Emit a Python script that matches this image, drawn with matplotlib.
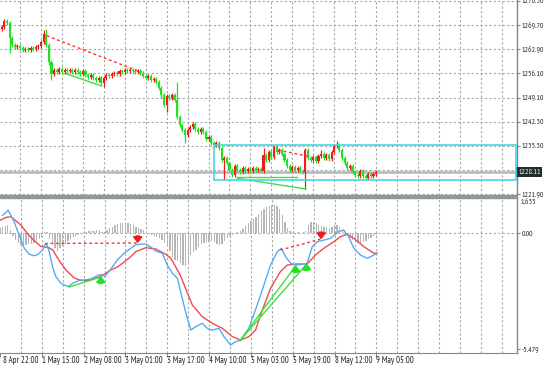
import matplotlib
matplotlib.use('Agg')
import matplotlib.pyplot as plt
from matplotlib.patches import Rectangle

plt.rcParams['font.family'] = ['PT Sans Narrow', 'DejaVu Sans']

# ---- H1 candles, bar index 0..144 (open of each bar = previous close) ----
first_open = 1268.0
closes = [
    1268.57, 1269.13, 1270.83, 1270.26, 1266.02, 1264.04, 1263.47, 1263.76, 1263.19, 1262.63,
    1262.91, 1262.63, 1263.19, 1262.91, 1263.47, 1263.76, 1264.89, 1267.15, 1264.04, 1259.23,
    1255.84, 1256.97, 1256.40, 1257.25, 1256.40, 1256.97, 1256.68, 1256.97, 1256.40, 1256.97,
    1256.40, 1255.84, 1256.68, 1255.55, 1254.99, 1255.55, 1254.70, 1254.14, 1254.70, 1253.29,
    1254.70, 1255.55, 1255.27, 1255.84, 1256.12, 1255.84, 1256.68, 1256.40, 1256.97, 1256.68,
    1256.97, 1256.68, 1256.40, 1256.68, 1256.12, 1255.27, 1254.70, 1255.27, 1254.14, 1254.42,
    1253.57, 1251.88, 1249.89, 1247.07, 1249.61, 1249.05, 1249.89, 1248.48, 1243.67, 1241.41,
    1240.00, 1238.58, 1240.00, 1240.84, 1241.69, 1240.28, 1239.43, 1240.28, 1239.43, 1237.45,
    1238.01, 1236.32, 1235.75, 1236.32, 1234.90, 1231.51, 1232.07, 1230.66, 1228.68, 1227.26,
    1229.81, 1228.68, 1228.11, 1229.24, 1228.39, 1228.96, 1228.39, 1229.24, 1228.68, 1228.96,
    1228.39, 1232.92, 1231.51, 1233.77, 1232.35, 1235.19, 1233.77, 1234.34, 1233.20, 1231.51,
    1229.81, 1228.68, 1229.53, 1228.68, 1229.24, 1228.39, 1228.11, 1234.34, 1232.07, 1231.51,
    1232.35, 1231.22, 1232.64, 1233.20, 1232.07, 1232.92, 1231.79, 1233.77, 1235.47, 1235.75,
    1234.34, 1232.07, 1230.66, 1229.24, 1229.81, 1228.11, 1227.26, 1226.98, 1228.39, 1226.98,
    1226.41, 1227.54, 1226.98, 1227.54, 1228.11]
wick = 0.45   # usual wick beyond the body
up_wick = {17: 1.1, 18: 1.4, 68: 5.1, 74: 0.6, 101: 2.0, 105: 0.6, 117: 0.6,
           123: 1.1, 129: 1.1, 138: 0.6}
dn_wick = {4: 4.2, 19: 0.85, 20: 1.7, 40: 1.1, 62: 0.8, 64: 2.0, 71: 2.3,
           86: 5.7, 89: 0.6, 117: 4.8, 140: 0.55}

price_ticks = [1276.50, 1269.70, 1262.90, 1256.10, 1249.10, 1242.30, 1235.50, 1221.90]
grid_prices = [1276.50, 1269.70, 1262.90, 1256.10, 1249.10, 1242.30, 1235.50, 1228.70, 1221.90]
last_price = 1228.11

time_bars = [0, 16, 32, 48, 64, 80, 96, 112, 128, 144]
time_labels = ['8 Apr 22:00', '1 May 15:00', '2 May 08:00', '3 May 01:00', '3 May 17:00',
               '4 May 10:00', '5 May 03:00', '5 May 19:00', '8 May 12:00', '9 May 05:00']

# ---- MACD panel ----
hist = [
    0.24, 0.28, 0.33, 0.38, 0.14, -0.14, -0.33, -0.47, -0.57, -0.57,
    -0.57, -0.52, -0.52, -0.47, -0.38, -0.28, -0.19, 0.05, 0.05, -0.28,
    -0.52, -0.71, -0.85, -0.71, -0.61, -0.52, -0.38, -0.28, -0.19, -0.14,
    -0.09, -0.05, 0.05, 0.05, 0.09, 0.09, 0.09, 0.14, 0.14, 0.05,
    0.05, 0.14, 0.24, 0.28, 0.38, 0.43, 0.47, 0.47, 0.47, 0.47,
    0.43, 0.38, 0.28, 0.24, 0.19, 0.14, 0.05, -0.05, -0.09, -0.14,
    -0.19, -0.24, -0.33, -0.47, -0.66, -0.85, -1.13, -1.28, -1.32, -1.42,
    -1.51, -1.56, -1.42, -1.04, -0.90, -0.80, -0.66, -0.52, -0.47, -0.43,
    -0.43, -0.38, -0.43, -0.52, -0.57, -0.52, -0.38, -0.24, -0.14, -0.09,
    -0.05, 0.05, 0.09, 0.19, 0.33, 0.47, 0.57, 0.66, 0.76, 0.90,
    1.04, 1.13, 1.23, 1.28, 1.32, 1.32, 1.28, 1.13, 0.85, 0.52,
    0.24, 0.09, 0.05, 0.02, 0.05, 0.02, 0.05, 0.09, 0.38, 0.52,
    0.52, 0.47, 0.38, 0.33, 0.28, 0.24, 0.24, 0.28, 0.38, 0.38,
    0.28, 0.09, -0.05, -0.14, -0.24, -0.33, -0.43, -0.47, -0.47, -0.43,
    -0.38, -0.28, -0.24, -0.14, -0.09]

macd_x = [1.0, 3.1, 5.4, 7.3, 9.3, 11.2, 13.1, 14.6, 16.3, 17.2, 17.9, 18.8, 20.1, 21.4,
          23.3, 25.2, 26.4, 27.9, 30.3, 34.7, 37.4, 38.6, 40.1, 42.4, 44.9, 47.5, 50.0,
          51.9, 53.8, 55.8, 57.7, 59.6, 62.1, 64.0, 66.0, 67.9, 69.1, 71.0, 73.0, 74.9,
          77.4, 79.3, 81.2, 83.8, 85.7, 88.2, 90.1, 92.1, 95.2, 98.4, 101.0, 103.5, 106.1,
          107.6, 109.3, 111.2, 113.1, 116.2, 117.5, 119.5, 121.4, 123.9, 126.4, 129.6,
          131.5, 133.4, 135.4, 137.9, 140.5, 143.0, 144.3]
macd = [0.84, 1.09, 0.55, -0.08, -0.71, -0.99, -1.06, -0.99, -0.79, -0.55, -0.52, -0.84,
        -1.58, -2.05, -2.36, -2.48, -2.50, -2.35, -2.23, -2.16, -1.99, -1.95, -2.04, -1.69,
        -1.26, -0.94, -0.71, -0.55, -0.51, -0.51, -0.65, -0.84, -0.94, -1.50, -1.89, -2.13,
        -2.76, -3.70, -4.57, -4.41, -4.25, -4.49, -4.57, -4.49, -4.88, -5.28, -5.12, -5.04,
        -4.49, -3.39, -2.44, -1.50, -0.87, -0.71, -1.11, -1.42, -1.50, -1.46, -1.42, -0.63,
        -0.40, -0.32, -0.24, 0.08, 0.16, -0.16, -0.71, -1.03, -1.18, -1.03, -0.94]

sig_x = [0.3, 2.3, 4.2, 8.0, 10.6, 13.0, 15.6, 18.7, 20.2, 22.6, 25.2, 28.4, 30.9, 33.6,
         37.4, 39.2, 42.4, 44.9, 47.3, 50.0, 51.9, 55.8, 59.6, 63.4, 65.3, 67.2, 69.1,
         71.0, 73.6, 77.4, 81.2, 85.1, 88.9, 92.1, 95.2, 97.8, 99.7, 103.5, 107.3, 109.9,
         113.7, 117.5, 120.7, 123.9, 127.7, 130.3, 132.8, 135.4, 139.2, 143.0, 144.3]
sig = [0.63, 0.75, 0.78, 0.39, -0.03, -0.34, -0.62, -0.68, -0.79, -1.28, -1.73, -2.11,
       -2.22, -2.23, -2.09, -1.99, -1.73, -1.59, -1.38, -1.11, -0.87, -0.68, -0.74, -0.99,
       -1.17, -1.58, -2.02, -2.60, -3.39, -3.94, -4.25, -4.49, -4.88, -5.04, -4.88, -4.57,
       -3.86, -2.60, -1.81, -1.50, -1.45, -1.45, -1.03, -0.71, -0.40, -0.16, -0.05, -0.24,
       -0.63, -0.94, -0.94]

# trend-line objects drawn on the chart: (x0, x1), (y0, y1)
price_red_dash = [((18.2, 53.8), (1266.67, 1256.49)), ((106.6, 118.8), (1234.34, 1232.44))]
price_green = [((25.8, 39.2), (1255.84, 1252.44)), ((90.9, 113.7), (1226.61, 1226.61)),
               ((91.0, 117.2), (1226.33, 1223.30))]
box_left, box_top, box_bottom = 82.2, 1235.75, 1225.85

macd_red_dash = [((17.2, 52.7), (-0.48, -0.46)), ((107.3, 122.6), (-0.79, -0.28))]
macd_green = [((26.3, 38.6), (-2.54, -2.07)), ((91.8, 113.1), (-5.07, -1.55)),
              ((91.8, 117.3), (-5.07, -1.46))]
down_arrows = [(52.7, -0.42), (122.9, -0.24)]
up_arrows = [(38.6, -2.07), (113.1, -1.55), (117.3, -1.46)]

macd_top_lbl, macd_bot_lbl = 1.635, -5.479

# ---- layout (pixel based, 545 x 372) ----
W, H = 545.0, 372.0
fig = plt.figure(figsize=(W / 100, H / 100), dpi=100)
fig.patch.set_facecolor('white')
right_px = 517
ax1 = fig.add_axes([0, 1 - 194.5 / H, right_px / W, 194.5 / H])
ax2 = fig.add_axes([0, 1 - 353 / H, right_px / W, (353 - 197.8) / H])

px_per_bar = 2.618
x0 = 0.9 / px_per_bar
x1 = x0 + right_px / px_per_bar
grid_col = '#a3a9a9'
txt_col = '#222222'
fsz = 5.6      # right-hand price / value labels
fsz_t = 6.3    # time labels
bull, bear = '#f01c1c', '#22e022'

for ax in (ax1, ax2):
    ax.set_xlim(x0, x1)
    for s in ('top', 'left', 'bottom'):
        ax.spines[s].set_visible(False)
    ax.spines['right'].set_color('#7f8787')
    ax.spines['right'].set_linewidth(1.0)
    for k in range(1, 25):
        ax.axvline(8 * k, color=grid_col, lw=0.8, ls=(0, (2, 2)), zorder=0)

# main price panel
ax1.set_ylim(1276.77 - 194.5 / 3.535, 1276.77)
for p in grid_prices:
    ax1.axhline(p, color=grid_col, lw=0.8, ls=(0, (2, 2)), zorder=0)
ax1.axhline(last_price, color='#b4b8b8', lw=1.8, zorder=1)

opens = [first_open] + closes[:-1]
for i, (o, c) in enumerate(zip(opens, closes)):
    col = bull if c > o else bear
    hi = max(o, c) + up_wick.get(i, wick)
    lo = min(o, c) - dn_wick.get(i, wick)
    ax1.vlines(i, lo, hi, color=col, lw=0.9, zorder=3)
    h = abs(c - o) if abs(c - o) > 0.12 else 0.12
    ax1.bar(i, h, bottom=min(o, c), width=0.8, color=col, linewidth=0, zorder=4)

for (xs, ys) in price_red_dash:
    ax1.plot(xs, ys, color='#ff3030', lw=1.0, ls=(0, (2, 2)), zorder=5)
for (xs, ys) in price_green:
    ax1.plot(xs, ys, color='#3fe03f', lw=1.0, zorder=5)
ax1.add_patch(Rectangle((box_left, box_bottom), x1 - box_left - 0.2, box_top - box_bottom,
                        fill=False, edgecolor='#46d8e2', lw=1.2, zorder=6))

ax1.set_xticks([])
ax1.yaxis.tick_right()
ax1.set_yticks(price_ticks)
ax1.set_yticklabels(['%.2f' % p for p in price_ticks])
ax1.tick_params(axis='y', length=2.5, width=0.8, color='#7f8787', pad=0.8,
                labelsize=fsz, labelcolor=txt_col)
ax1.text(1.002, last_price, '%.2f' % last_price, transform=ax1.get_yaxis_transform(),
         fontsize=fsz, color='white', va='center', ha='left', clip_on=False,
         bbox=dict(boxstyle='square,pad=0.25', fc='#1f2d2d', ec='none'))

# separator between panels
fig.patches.append(Rectangle((0, 1 - 197.8 / H), right_px / W, 3.3 / H,
                             transform=fig.transFigure, color='#8e9898', zorder=10))

# MACD panel
ax2.set_ylim(-(353 - 233.3) / 21.17, (233.3 - 197.8) / 21.17)
ax2.axhline(0, color=grid_col, lw=0.8, ls=(0, (2, 2)), zorder=0)
ax2.bar(range(len(hist)), hist, width=0.5, color='#b6b6b6', linewidth=0, zorder=2)
ax2.plot(sig_x, sig, color='#f24a4a', lw=1.0, zorder=4)
ax2.plot(macd_x, macd, color='#5aaaf2', lw=1.0, zorder=4)
for (xs, ys) in macd_red_dash:
    ax2.plot(xs, ys, color='#ff3030', lw=1.0, ls=(0, (2, 2)), zorder=5)
for (xs, ys) in macd_green:
    ax2.plot(xs, ys, color='#3fe03f', lw=1.0, zorder=5)
arrow_style = 'simple,head_width=0.9,head_length=0.6,tail_width=0.35'
for (xa, ya) in down_arrows:
    ax2.annotate('', xy=(xa, ya), xytext=(0, 4.5), textcoords='offset points',
                 arrowprops=dict(arrowstyle=arrow_style, color='#f01c1c', shrinkA=0,
                                 shrinkB=0, mutation_scale=6.5), zorder=7)
for (xa, ya) in up_arrows:
    ax2.annotate('', xy=(xa, ya), xytext=(0, -4.5), textcoords='offset points',
                 arrowprops=dict(arrowstyle=arrow_style, color='#22e022', shrinkA=0,
                                 shrinkB=0, mutation_scale=6.5), zorder=7)

ax2.spines['bottom'].set_visible(True)
ax2.spines['bottom'].set_color('#7f8787')
ax2.yaxis.tick_right()
ax2.set_yticks([0, macd_bot_lbl])
ax2.set_yticklabels(['0.00', '%.3f' % macd_bot_lbl])
ax2.tick_params(axis='y', length=2.5, width=0.8, color='#7f8787', pad=0.8,
                labelsize=fsz, labelcolor=txt_col)
ax2.text(1.0075, macd_top_lbl, '%.3f' % macd_top_lbl, transform=ax2.get_yaxis_transform(),
         fontsize=fsz, color=txt_col, va='top', ha='left', clip_on=False)

ax2.set_xticks(time_bars)
ax2.set_xticklabels([])
ax2.tick_params(axis='x', length=3, width=0.8, color='#7f8787')
for b, lab in zip(time_bars, time_labels):
    xb = b if b > 0 else 1.2
    ax2.text(xb, -0.018, lab, transform=ax2.get_xaxis_transform(), fontsize=fsz_t,
             color=txt_col, ha='left', va='top', clip_on=False)

fig.savefig('out.png', dpi=100)
